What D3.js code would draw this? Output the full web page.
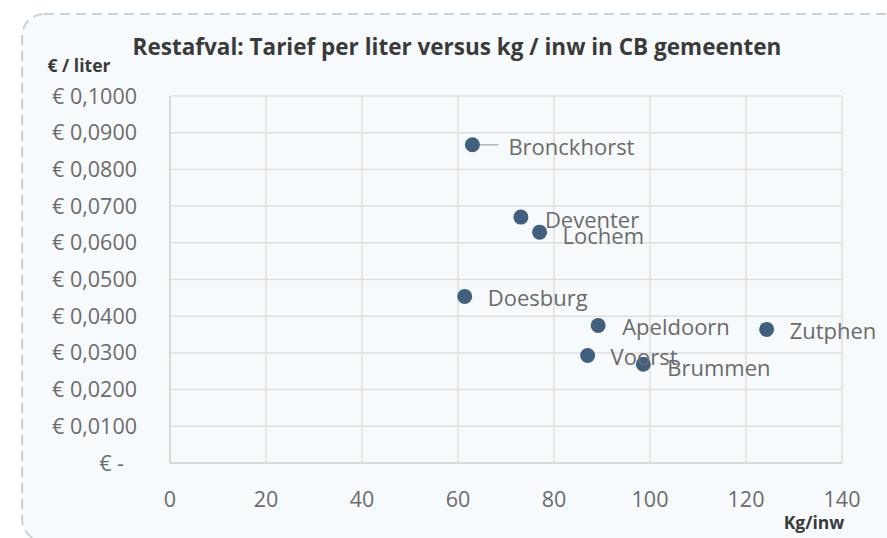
<!DOCTYPE html>
<html lang="nl">
<head>
  <meta charset="utf-8">
  <title>Restafval: Tarief per liter versus kg / inw</title>
  <script src="https://d3js.org/d3.v7.min.js"></script>
  <style>
    body { margin: 0; background: #fff; }
    text { font-family: "Open Sans", "Noto Sans", sans-serif; }
  </style>
</head>
<body>
  <svg id="chart" width="887" height="538"></svg>

  <script>
    // gemeenten en waarden (kg per inwoner, tarief per liter)
    const gemeenten = ["Bronckhorst", "Deventer", "Lochem", "Doesburg", "Apeldoorn", "Zutphen", "Voorst", "Brummen"];
    const kgPerInw = [63.0, 73.1, 77.0, 61.4, 89.2, 124.3, 87.0, 98.6];
    const tariefPerLiter = [0.0867, 0.0670, 0.0629, 0.0454, 0.0375, 0.0364, 0.0293, 0.0269];

    const xTicks = [0, 20, 40, 60, 80, 100, 120, 140];
    const yTicks = [0, 0.01, 0.02, 0.03, 0.04, 0.05, 0.06, 0.07, 0.08, 0.09, 0.1];

    // verschuiving van de labels (px)
    const labelDx = [36, 24, 23, 23, 24, 23, 23, 24];
    const labelDy = [2, 3, 4, 2, 2, 2, 2, 4];

    const svg = d3.select("#chart");

    // achtergrond met gestippelde rand
    svg.append("rect")
      .attr("x", 22).attr("y", 14)
      .attr("width", 890).attr("height", 527)
      .attr("rx", 22).attr("ry", 22)
      .attr("fill", "#f7fafc")
      .attr("stroke", "#c8d0da")
      .attr("stroke-width", 2)
      .attr("stroke-dasharray", "10,6");

    const x = d3.scaleLinear().domain([0, 140]).range([170, 842]);
    const y = d3.scaleLinear().domain([0, 0.1]).range([463, 96]);

    // rasterlijnen
    svg.append("g").selectAll("line")
      .data(yTicks.slice(1))
      .enter().append("line")
      .attr("x1", x(0)).attr("x2", x(140))
      .attr("y1", d => y(d)).attr("y2", d => y(d))
      .attr("stroke", "#dedede").attr("stroke-width", 1.5);

    svg.append("g").selectAll("line")
      .data(xTicks.slice(1))
      .enter().append("line")
      .attr("x1", d => x(d)).attr("x2", d => x(d))
      .attr("y1", y(0)).attr("y2", y(0.1))
      .attr("stroke", "#dedede").attr("stroke-width", 1.5);

    // assen
    svg.append("line")
      .attr("x1", x(0)).attr("x2", x(0))
      .attr("y1", y(0)).attr("y2", y(0.1))
      .attr("stroke", "#cfcfcf").attr("stroke-width", 1.5);
    svg.append("line")
      .attr("x1", x(0)).attr("x2", x(140))
      .attr("y1", y(0)).attr("y2", y(0))
      .attr("stroke", "#cfcfcf").attr("stroke-width", 1.5);

    const euro = d => d === 0 ? "€ -" : "€ " + d.toFixed(4).replace(".", ",");

    svg.append("g").selectAll("text")
      .data(yTicks)
      .enter().append("text")
      .attr("x", d => d === 0 ? 124 : 137)
      .attr("y", d => y(d))
      .attr("dy", "0.35em")
      .attr("text-anchor", "end")
      .attr("font-size", "21.5px")
      .attr("fill", "#6b6b6b")
      .text(euro);

    svg.append("g").selectAll("text")
      .data(xTicks)
      .enter().append("text")
      .attr("x", d => x(d))
      .attr("y", 499)
      .attr("dy", "0.35em")
      .attr("text-anchor", "middle")
      .attr("font-size", "21.5px")
      .attr("fill", "#6b6b6b")
      .text(d => d);

    // titel en astitels
    svg.append("text")
      .attr("x", 457).attr("y", 55)
      .attr("text-anchor", "middle")
      .attr("font-size", "22.5px").attr("font-weight", "bold")
      .attr("fill", "#3a3a3a")
      .text("Restafval: Tarief per liter versus kg / inw in CB gemeenten");

    svg.append("text")
      .attr("x", 79).attr("y", 72)
      .attr("text-anchor", "middle")
      .attr("font-size", "17.5px").attr("font-weight", "bold")
      .attr("fill", "#3a3a3a")
      .text("€ / liter");

    svg.append("text")
      .attr("x", 814).attr("y", 529)
      .attr("text-anchor", "middle")
      .attr("font-size", "17.5px").attr("font-weight", "bold")
      .attr("fill", "#3a3a3a")
      .text("Kg/inw");

    const data = gemeenten.map((g, i) => ({
      naam: g, kg: kgPerInw[i], tarief: tariefPerLiter[i], dx: labelDx[i], dy: labelDy[i]
    }));

    // verbindingslijn voor labels die verder weg staan
    svg.append("g").selectAll("line")
      .data(data.filter(d => d.dx > 30))
      .enter().append("line")
      .attr("x1", d => x(d.kg)).attr("x2", d => x(d.kg) + d.dx - 10)
      .attr("y1", d => y(d.tarief)).attr("y2", d => y(d.tarief))
      .attr("stroke", "#b5b5b5").attr("stroke-width", 1.5);

    svg.append("g").selectAll("circle")
      .data(data)
      .enter().append("circle")
      .attr("cx", d => x(d.kg))
      .attr("cy", d => y(d.tarief))
      .attr("r", 7.5)
      .attr("fill", "#41607e");

    svg.append("g").selectAll("text")
      .data(data)
      .enter().append("text")
      .attr("x", d => x(d.kg) + d.dx)
      .attr("y", d => y(d.tarief) + d.dy)
      .attr("dy", "0.35em")
      .attr("font-size", "22px")
      .attr("fill", "#6b6b6b")
      .text(d => d.naam);
  </script>
</body>
</html>
